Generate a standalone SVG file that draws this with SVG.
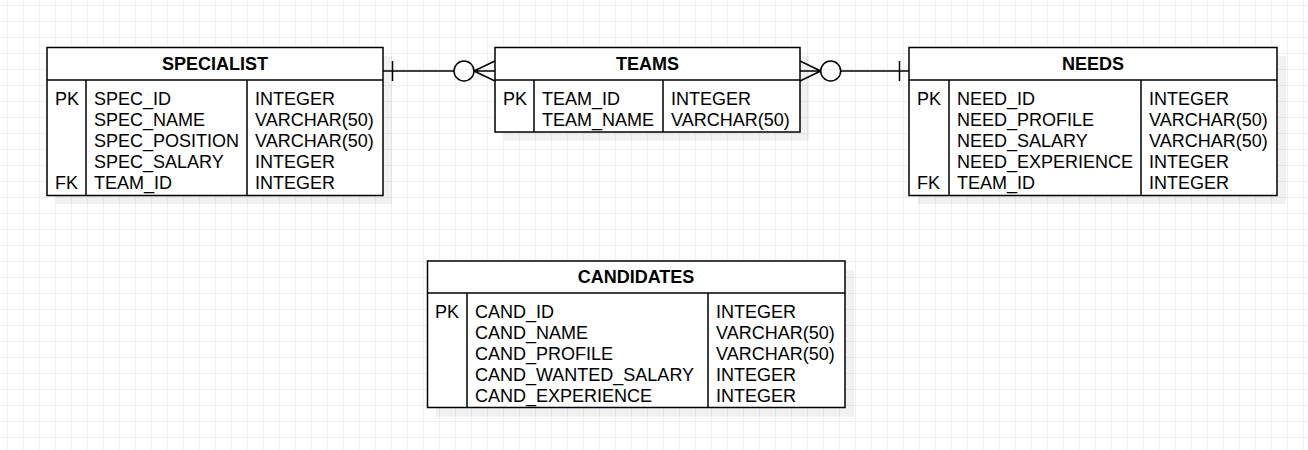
<svg xmlns="http://www.w3.org/2000/svg" width="1308" height="450" viewBox="0 0 1308 450">
<defs>
<pattern id="grid" x="7" y="5" width="16" height="16" patternUnits="userSpaceOnUse">
<path d="M0.5 0 V16 M0 0.5 H16" fill="none" stroke="#f0f0f0" stroke-width="1"/>
</pattern>
</defs>
<style>
.box{fill:#fff;stroke:#000;stroke-width:1.5}
.sh{fill:#000;fill-opacity:0.055}
.ln{stroke:#000;stroke-width:1.5;fill:none}
text{font-family:"Liberation Sans",Arial,sans-serif;font-size:18px;fill:#000}
.t{font-weight:bold;text-anchor:middle}
</style>
<rect width="1308" height="450" fill="#fff"/>
<rect width="1308" height="450" fill="url(#grid)"/>

<g id="specialist">
<rect class="sh" x="56" y="56" width="336" height="148"/>
<rect class="box" x="47" y="47.5" width="336" height="148"/>
<path class="ln" d="M47 80 H383 M86 80 V195.5 M247 80 V195.5"/>
<text class="t" x="215" y="69.5">SPECIALIST</text>
<text x="55" y="104.7">PK</text>
<text x="55" y="188.7">FK</text>
<text x="94" y="104.7">SPEC_ID</text>
<text x="94" y="125.7">SPEC_NAME</text>
<text x="94" y="146.7">SPEC_POSITION</text>
<text x="94" y="167.7">SPEC_SALARY</text>
<text x="94" y="188.7">TEAM_ID</text>
<text x="255" y="104.7">INTEGER</text>
<text x="255" y="125.7">VARCHAR(50)</text>
<text x="255" y="146.7">VARCHAR(50)</text>
<text x="255" y="167.7">INTEGER</text>
<text x="255" y="188.7">INTEGER</text>
</g>

<g id="teams">
<rect class="sh" x="504" y="56" width="305" height="84.5"/>
<rect class="box" x="495" y="47.5" width="305" height="84.5"/>
<path class="ln" d="M495 80 H800 M534 80 V132 M663 80 V132"/>
<text class="t" x="647.5" y="69.5">TEAMS</text>
<text x="503" y="104.7">PK</text>
<text x="542" y="104.7">TEAM_ID</text>
<text x="542" y="125.7">TEAM_NAME</text>
<text x="671" y="104.7">INTEGER</text>
<text x="671" y="125.7">VARCHAR(50)</text>
</g>

<g id="needs">
<rect class="sh" x="918" y="56" width="368" height="148"/>
<rect class="box" x="909" y="47.5" width="368" height="148"/>
<path class="ln" d="M909 80 H1277 M949 80 V195.5 M1141 80 V195.5"/>
<text class="t" x="1093" y="69.5">NEEDS</text>
<text x="917" y="104.7">PK</text>
<text x="917" y="188.7">FK</text>
<text x="957" y="104.7">NEED_ID</text>
<text x="957" y="125.7">NEED_PROFILE</text>
<text x="957" y="146.7">NEED_SALARY</text>
<text x="957" y="167.7">NEED_EXPERIENCE</text>
<text x="957" y="188.7">TEAM_ID</text>
<text x="1149" y="104.7">INTEGER</text>
<text x="1149" y="125.7">VARCHAR(50)</text>
<text x="1149" y="146.7">VARCHAR(50)</text>
<text x="1149" y="167.7">INTEGER</text>
<text x="1149" y="188.7">INTEGER</text>
</g>

<g id="candidates">
<rect class="sh" x="436" y="270" width="418" height="146.5"/>
<rect class="box" x="427.5" y="261" width="417.5" height="146.5"/>
<path class="ln" d="M427.5 293 H845 M467 293 V407.5 M708 293 V407.5"/>
<text class="t" x="636" y="283">CANDIDATES</text>
<text x="435" y="317.5">PK</text>
<text x="475" y="317.5">CAND_ID</text>
<text x="475" y="338.5">CAND_NAME</text>
<text x="475" y="359.5">CAND_PROFILE</text>
<text x="475" y="380.5">CAND_WANTED_SALARY</text>
<text x="475" y="401.5">CAND_EXPERIENCE</text>
<text x="716" y="317.5">INTEGER</text>
<text x="716" y="338.5">VARCHAR(50)</text>
<text x="716" y="359.5">VARCHAR(50)</text>
<text x="716" y="380.5">INTEGER</text>
<text x="716" y="401.5">INTEGER</text>
</g>

<g id="connectors">
<g id="spec-teams">
<path class="ln" d="M383 71 H454 M392.5 61 V81 M474 71 L495 61 M474 71 H495 M474 71 L495 81"/>
<circle class="ln" cx="464" cy="71" r="10"/>
</g>
<g id="teams-needs">
<path class="ln" d="M800 61 L820.7 71 M800 71 H820.7 M800 81 L820.7 71 M840.7 71 H909 M899.5 61 V81"/>
<circle class="ln" cx="830.7" cy="71" r="10"/>
</g>
</g>
</svg>
